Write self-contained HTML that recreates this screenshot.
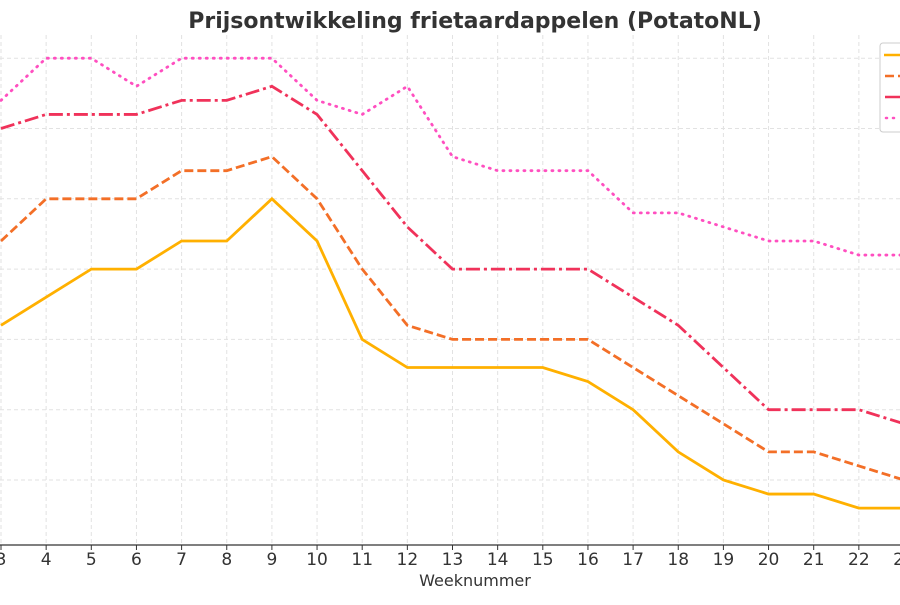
<!DOCTYPE html>
<html><head><meta charset="utf-8"><style>
body{margin:0;background:#fff;}
svg{font-family:"DejaVu Sans","Liberation Sans",sans-serif;}
</style></head><body>
<svg id="chart" width="900" height="600" viewBox="0 0 900 600" xmlns="http://www.w3.org/2000/svg">
<text x="475" y="28" text-anchor="middle" font-size="22" font-weight="bold" fill="#333">Prijsontwikkeling frietaardappelen (PotatoNL)</text>
<g id="grid"></g>
<g id="series"></g>
<line x1="0" y1="545" x2="900" y2="545" stroke="#333" stroke-width="1.2"/>
<g id="xticks"></g>
<text x="475" y="586" text-anchor="middle" font-size="16" fill="#333">Weeknummer</text>
<g>
<rect x="880" y="43" width="30" height="89" rx="3" fill="#fff" stroke="#ccc"/>
<line x1="884" y1="55" x2="900" y2="55" stroke="#FFB000" stroke-width="2.5"/>
<line x1="885" y1="76" x2="900" y2="76" stroke="#F36F27" stroke-width="2.5" stroke-dasharray="9,4"/>
<line x1="885" y1="97" x2="900" y2="97" stroke="#F0325A" stroke-width="2.5"/>
<line x1="886" y1="118" x2="900" y2="118" stroke="#FF4FC0" stroke-width="2.5" stroke-dasharray="1,6" stroke-linecap="round"/>
</g>
</svg>
<script>
const weeks=[3,4,5,6,7,8,9,10,11,12,13,14,15,16,17,18,19,20,21,22,23];
const seriesA=[3.2,3.6,4,4,4.4,4.4,5,4.4,3,2.6,2.6,2.6,2.6,2.4,2,1.4,1,0.8,0.8,0.6,0.6];
const seriesB=[4.4,5,5,5,5.4,5.4,5.6,5,4,3.2,3,3,3,3,2.6,2.2,1.8,1.4,1.4,1.2,1];
const seriesC=[6,6.2,6.2,6.2,6.4,6.4,6.6,6.2,5.4,4.6,4,4,4,4,3.6,3.2,2.6,2,2,2,1.8];
const seriesD=[6.4,7,7,6.6,7,7,7,6.4,6.2,6.6,5.6,5.4,5.4,5.4,4.8,4.8,4.6,4.4,4.4,4.2,4.2];
const yGrid=[1,2,3,4,5,6,7];
const xTickLabels=["3","4","5","6","7","8","9","10","11","12","13","14","15","16","17","18","19","20","21","22","23"];
const NS="http://www.w3.org/2000/svg";
const x=w=>1+(w-3)*45.15;
const y=v=>480-(v-1)*70.3;
const grid=document.getElementById('grid');
weeks.forEach(w=>{
 const l=document.createElementNS(NS,'line');
 
 
 l.setAttribute('x1',x(w));l.setAttribute('x2',x(w));l.setAttribute('y1',35);l.setAttribute('y2',545);
 l.setAttribute('stroke','#e2e2e2');l.setAttribute('stroke-dasharray','4,3');
 grid.appendChild(l);
});
yGrid.forEach(v=>{
 const l=document.createElementNS(NS,'line');
 
 
 l.setAttribute('x1',0);l.setAttribute('x2',900);l.setAttribute('y1',y(v));l.setAttribute('y2',y(v));
 l.setAttribute('stroke','#e2e2e2');l.setAttribute('stroke-dasharray','4,3');
 grid.appendChild(l);
});
const xt=document.getElementById('xticks');
weeks.forEach((w,i)=>{
 const t=document.createElementNS(NS,'line');
 
 
 t.setAttribute('x1',x(w));t.setAttribute('x2',x(w));t.setAttribute('y1',545);t.setAttribute('y2',550);
 t.setAttribute('stroke','#333');
 xt.appendChild(t);
 const s=document.createElementNS(NS,'text');
 
 
 s.setAttribute('x',x(w));s.setAttribute('y',565);s.setAttribute('text-anchor','middle');
 s.setAttribute('font-size','17');s.setAttribute('fill','#333');
 s.textContent=xTickLabels[i];
 xt.appendChild(s);
});
const sg=document.getElementById('series');
[[seriesA,'#FFB000','','series-a-line'],[seriesB,'#F36F27','9,4','series-b-line'],[seriesC,'#F0325A','14,4,3,4','series-c-line'],[seriesD,'#FF4FC0','1,6','series-d-line']].forEach(([d,c,da,n])=>{
 const p=document.createElementNS(NS,'polyline');
 
 
 p.setAttribute('points',d.map((v,i)=>x(weeks[i])+','+y(v)).join(' '));
 p.setAttribute('fill','none');p.setAttribute('stroke',c);p.setAttribute('stroke-width','2.8');
 if(da)p.setAttribute('stroke-dasharray',da);
 if(n==='series-d-line')p.setAttribute('stroke-linecap','round');
 sg.appendChild(p);
});
</script>
</body></html>
